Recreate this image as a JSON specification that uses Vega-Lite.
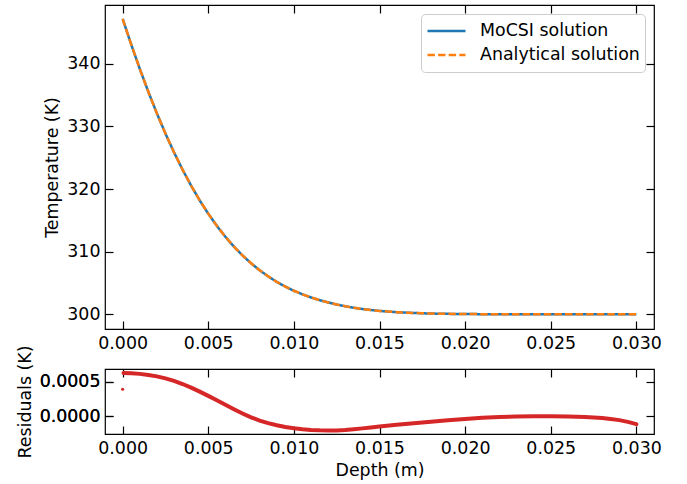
{
  "$schema": "https://vega.github.io/schema/vega-lite/v6.json",
  "padding": {"left": 15, "top": 3, "right": 5, "bottom": 5},
  "background": "white",
  "spacing": 40,
  "bounds": "flush",
  "config": {
    "view": {"stroke": "black", "strokeWidth": 1.2},
    "axis": {
      "domain": false, "grid": false, "ticks": true, "tickSize": -8, "tickWidth": 1.2, "tickColor": "black",
      "labelFont": "DejaVu Sans", "labelFontSize": 17.4, "labelColor": "black", "labelPadding": 4,
      "titleFont": "DejaVu Sans", "titleFontSize": 17.4, "titleFontWeight": "normal", "titleColor": "black", "titlePadding": 5
    },
    "axisBottom": {"labelPadding": 13.5},
    "axisLeft": {"labelPadding": 13},
    "legend": {"labelFont": "DejaVu Sans", "labelFontSize": 17.4, "labelColor": "black"}
  },
  "datasets": {
    "temp": [
      {"depth": 0.0, "mocsi": 347.2, "analytical": 347.2},
      {"depth": 0.0005, "mocsi": 343.1, "analytical": 343.1},
      {"depth": 0.001, "mocsi": 339.21, "analytical": 339.21},
      {"depth": 0.0015, "mocsi": 335.54, "analytical": 335.54},
      {"depth": 0.002, "mocsi": 332.09, "analytical": 332.09},
      {"depth": 0.0025, "mocsi": 328.86, "analytical": 328.86},
      {"depth": 0.003, "mocsi": 325.87, "analytical": 325.87},
      {"depth": 0.0035, "mocsi": 323.09, "analytical": 323.09},
      {"depth": 0.004, "mocsi": 320.54, "analytical": 320.54},
      {"depth": 0.0045, "mocsi": 318.2, "analytical": 318.2},
      {"depth": 0.005, "mocsi": 316.07, "analytical": 316.07},
      {"depth": 0.0055, "mocsi": 314.13, "analytical": 314.13},
      {"depth": 0.006, "mocsi": 312.38, "analytical": 312.38},
      {"depth": 0.0065, "mocsi": 310.81, "analytical": 310.81},
      {"depth": 0.007, "mocsi": 309.4, "analytical": 309.4},
      {"depth": 0.0075, "mocsi": 308.15, "analytical": 308.15},
      {"depth": 0.008, "mocsi": 307.03, "analytical": 307.03},
      {"depth": 0.0085, "mocsi": 306.05, "analytical": 306.05},
      {"depth": 0.009, "mocsi": 305.18, "analytical": 305.18},
      {"depth": 0.0095, "mocsi": 304.42, "analytical": 304.42},
      {"depth": 0.01, "mocsi": 303.76, "analytical": 303.76},
      {"depth": 0.0105, "mocsi": 303.19, "analytical": 303.19},
      {"depth": 0.011, "mocsi": 302.69, "analytical": 302.69},
      {"depth": 0.0115, "mocsi": 302.26, "analytical": 302.26},
      {"depth": 0.012, "mocsi": 301.89, "analytical": 301.89},
      {"depth": 0.0125, "mocsi": 301.56, "analytical": 301.56},
      {"depth": 0.013, "mocsi": 301.28, "analytical": 301.28},
      {"depth": 0.0135, "mocsi": 301.04, "analytical": 301.04},
      {"depth": 0.014, "mocsi": 300.84, "analytical": 300.84},
      {"depth": 0.0145, "mocsi": 300.68, "analytical": 300.68},
      {"depth": 0.015, "mocsi": 300.54, "analytical": 300.54},
      {"depth": 0.0155, "mocsi": 300.43, "analytical": 300.43},
      {"depth": 0.016, "mocsi": 300.34, "analytical": 300.34},
      {"depth": 0.0165, "mocsi": 300.27, "analytical": 300.27},
      {"depth": 0.017, "mocsi": 300.21, "analytical": 300.21},
      {"depth": 0.0175, "mocsi": 300.16, "analytical": 300.16},
      {"depth": 0.018, "mocsi": 300.12, "analytical": 300.12},
      {"depth": 0.0185, "mocsi": 300.09, "analytical": 300.09},
      {"depth": 0.019, "mocsi": 300.07, "analytical": 300.07},
      {"depth": 0.0195, "mocsi": 300.05, "analytical": 300.05},
      {"depth": 0.02, "mocsi": 300.04, "analytical": 300.04},
      {"depth": 0.021, "mocsi": 300.02, "analytical": 300.02},
      {"depth": 0.022, "mocsi": 300.01, "analytical": 300.01},
      {"depth": 0.023, "mocsi": 300.005, "analytical": 300.005},
      {"depth": 0.024, "mocsi": 300.0, "analytical": 300.0},
      {"depth": 0.025, "mocsi": 300.0, "analytical": 300.0},
      {"depth": 0.026, "mocsi": 300.0, "analytical": 300.0},
      {"depth": 0.027, "mocsi": 300.0, "analytical": 300.0},
      {"depth": 0.028, "mocsi": 300.0, "analytical": 300.0},
      {"depth": 0.029, "mocsi": 300.0, "analytical": 300.0},
      {"depth": 0.03, "mocsi": 300.0, "analytical": 300.0}
    ],
    "resid": [
      {"depth": 0.00005, "residual": 0.000626},
      {"depth": 0.0005, "residual": 0.000623},
      {"depth": 0.001, "residual": 0.000614},
      {"depth": 0.0015, "residual": 0.000599},
      {"depth": 0.002, "residual": 0.000578},
      {"depth": 0.0025, "residual": 0.000548},
      {"depth": 0.003, "residual": 0.000511},
      {"depth": 0.0035, "residual": 0.000466},
      {"depth": 0.004, "residual": 0.000413},
      {"depth": 0.0045, "residual": 0.000355},
      {"depth": 0.005, "residual": 0.000293},
      {"depth": 0.0055, "residual": 0.000229},
      {"depth": 0.006, "residual": 0.000164},
      {"depth": 0.0065, "residual": 0.000099},
      {"depth": 0.007, "residual": 0.000036},
      {"depth": 0.0075, "residual": -0.00002},
      {"depth": 0.008, "residual": -0.000066},
      {"depth": 0.0085, "residual": -0.000103},
      {"depth": 0.009, "residual": -0.000135},
      {"depth": 0.0095, "residual": -0.00016},
      {"depth": 0.01, "residual": -0.000178},
      {"depth": 0.0105, "residual": -0.000192},
      {"depth": 0.011, "residual": -0.000202},
      {"depth": 0.0115, "residual": -0.000208},
      {"depth": 0.012, "residual": -0.00021},
      {"depth": 0.0125, "residual": -0.00021},
      {"depth": 0.013, "residual": -0.000203},
      {"depth": 0.0135, "residual": -0.000192},
      {"depth": 0.014, "residual": -0.00018},
      {"depth": 0.0145, "residual": -0.000166},
      {"depth": 0.015, "residual": -0.000153},
      {"depth": 0.016, "residual": -0.000128},
      {"depth": 0.017, "residual": -0.000105},
      {"depth": 0.018, "residual": -0.000083},
      {"depth": 0.019, "residual": -0.000062},
      {"depth": 0.02, "residual": -0.000042},
      {"depth": 0.021, "residual": -0.000026},
      {"depth": 0.022, "residual": -0.000014},
      {"depth": 0.023, "residual": -0.000007},
      {"depth": 0.024, "residual": -0.000004},
      {"depth": 0.025, "residual": -0.000004},
      {"depth": 0.026, "residual": -0.000007},
      {"depth": 0.027, "residual": -0.000014},
      {"depth": 0.0275, "residual": -0.00002},
      {"depth": 0.028, "residual": -0.00003},
      {"depth": 0.0285, "residual": -0.000043},
      {"depth": 0.029, "residual": -0.00006},
      {"depth": 0.0295, "residual": -0.000085},
      {"depth": 0.03, "residual": -0.000118}
    ],
    "resid_first": [
      {"depth": 0.0, "residual": 0.00039}
    ]
  },
  "vconcat": [
    {
      "width": 549,
      "height": 324,
      "data": {"name": "temp"},
      "transform": [{"fold": ["mocsi", "analytical"], "as": ["series", "temperature"]}],
      "layer": [
        {
          "mark": {"type": "line", "strokeWidth": 2.5},
          "encoding": {
            "x": {"field": "depth", "type": "quantitative",
              "scale": {"domain": [-0.00103, 0.03103], "nice": false, "zero": false},
              "axis": {"orient": "bottom", "values": [0, 0.005, 0.01, 0.015, 0.02, 0.025, 0.03], "format": ".3f", "title": null}},
            "y": {"field": "temperature", "type": "quantitative",
              "scale": {"domain": [297.65, 349.4], "nice": false, "zero": false},
              "axis": {"orient": "left", "values": [300, 310, 320, 330, 340], "format": "d", "title": "Temperature (K)"}},
            "color": {"field": "series", "type": "nominal",
              "scale": {"domain": ["mocsi", "analytical"], "range": ["#1f77b4", "#ff7f0e"]},
              "legend": {"title": null, "orient": "top-right", "offset": 9, "fillColor": "white", "strokeColor": "#cccccc", "cornerRadius": 4, "padding": 5,
                "symbolType": "stroke", "symbolSize": 1444, "symbolStrokeWidth": 2.5, "labelOffset": 13, "clipHeight": 24, "rowPadding": 0,
                "labelExpr": "datum.label == 'mocsi' ? 'MoCSI solution' : 'Analytical solution'"}},
            "strokeDash": {"field": "series", "type": "nominal",
              "scale": {"domain": ["mocsi", "analytical"], "range": [[1, 0], [7.4, 3.2]]},
              "legend": {"title": null, "orient": "top-right", "offset": 9, "fillColor": "white", "strokeColor": "#cccccc", "cornerRadius": 4, "padding": 5,
                "symbolType": "stroke", "symbolSize": 1444, "symbolStrokeWidth": 2.5, "labelOffset": 13, "clipHeight": 24, "rowPadding": 0,
                "labelExpr": "datum.label == 'mocsi' ? 'MoCSI solution' : 'Analytical solution'"}}
          }
        },
        {
          "mark": {"type": "line", "opacity": 0},
          "encoding": {
            "x": {"field": "depth", "type": "quantitative",
              "scale": {"domain": [-0.00103, 0.03103], "nice": false, "zero": false},
              "axis": {"orient": "top", "values": [0, 0.005, 0.01, 0.015, 0.02, 0.025, 0.03], "labels": false, "title": null}},
            "y": {"field": "temperature", "type": "quantitative",
              "scale": {"domain": [297.65, 349.4], "nice": false, "zero": false},
              "axis": {"orient": "right", "values": [300, 310, 320, 330, 340], "labels": false, "title": null}}
          }
        }
      ],
      "resolve": {"axis": {"x": "independent", "y": "independent"}}
    },
    {
      "width": 549,
      "height": 65,
      "layer": [
        {
          "data": {"name": "resid"},
          "mark": {"type": "line", "color": "#d62728", "strokeWidth": 4, "strokeCap": "round"},
          "encoding": {
            "x": {"field": "depth", "type": "quantitative",
              "scale": {"domain": [-0.00103, 0.03103], "nice": false, "zero": false},
              "axis": {"orient": "bottom", "values": [0, 0.005, 0.01, 0.015, 0.02, 0.025, 0.03], "format": ".3f", "title": "Depth (m)"}},
            "y": {"field": "residual", "type": "quantitative",
              "scale": {"domain": [-0.000262, 0.000685], "nice": false, "zero": false},
              "axis": {"orient": "left", "values": [0, 0.0005], "format": ".4f", "title": "Residuals (K)"}}
          }
        },
        {
          "data": {"name": "resid_first"},
          "mark": {"type": "circle", "color": "#d62728", "size": 10, "opacity": 1},
          "encoding": {
            "x": {"field": "depth", "type": "quantitative", "axis": null},
            "y": {"field": "residual", "type": "quantitative", "axis": null}
          }
        },
        {
          "data": {"name": "resid"},
          "mark": {"type": "line", "opacity": 0},
          "encoding": {
            "x": {"field": "depth", "type": "quantitative",
              "axis": {"orient": "top", "values": [0, 0.005, 0.01, 0.015, 0.02, 0.025, 0.03], "labels": false, "title": null}},
            "y": {"field": "residual", "type": "quantitative",
              "axis": {"orient": "right", "values": [0, 0.0005], "labels": false, "title": null}}
          }
        },
        {
          "mark": {"type": "rule", "color": "black", "strokeWidth": 1.5},
          "encoding": {"y": {"datum": 0, "type": "quantitative"}}
        }
      ],
      "resolve": {"axis": {"x": "independent", "y": "independent"}}
    }
  ]
}
